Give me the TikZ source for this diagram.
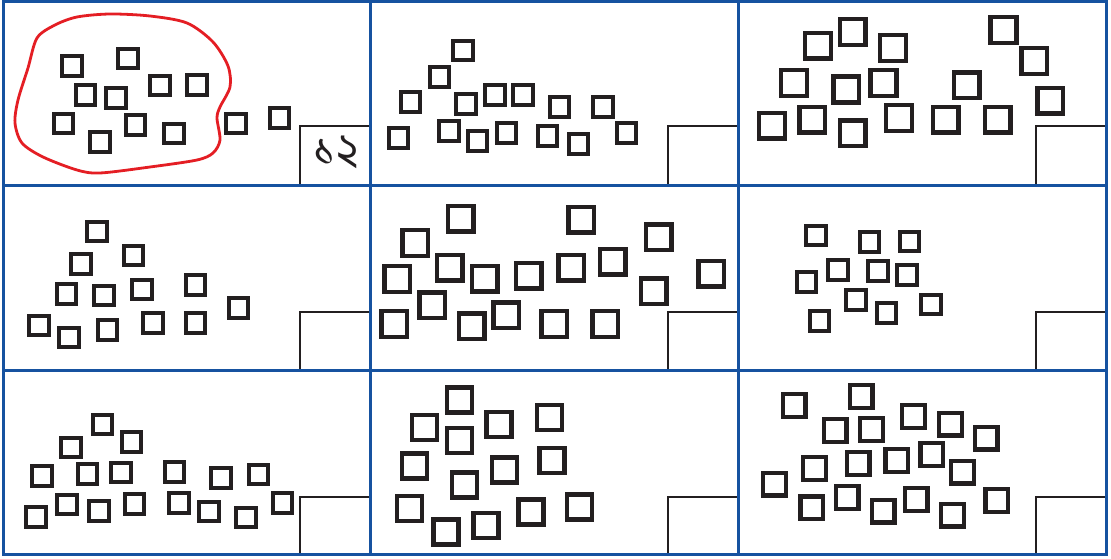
\documentclass[tikz,border=0pt]{standalone}
\usepackage{fontspec}
\newfontfamily\bnfont[Script=Bengali]{Hind Siliguri}
\definecolor{gridblue}{RGB}{22,82,160}
\definecolor{sqblack}{RGB}{35,31,32}
\definecolor{loopred}{RGB}{228,30,36}
\begin{document}
\begin{tikzpicture}[x=1pt,y=-1pt,
  sqbase/.style={draw=sqblack, inner sep=0pt, outer sep=0pt},
  sqs/.style={sqbase, line width=4pt, minimum size=19.6pt},
  sqm/.style={sqbase, line width=4.2pt, minimum size=22.8pt},
  sqb/.style={sqbase, line width=4.4pt, minimum size=25pt},
  sqxb/.style={sqbase, line width=4.5pt, minimum size=25.8pt},
  grid/.style={draw=gridblue, line width=3pt},
  ansbox/.style={draw=sqblack, line width=2pt},
  loop/.style={draw=loopred, line width=2.8pt}]
\useasboundingbox (0,0) rectangle (1111,559);

% answer boxes
\foreach \bx/\by [count=\i] in {299.5/126, 667.5/126, 1036/126, 299.5/311.5, 667.5/311.5, 1036/311.5, 299.5/496.5, 667.5/496.5, 1036/496.5}{
  \pgfmathsetmacro\rx{\bx<700 ? (\bx<400 ? 370 : 738) : 1106}
  \pgfmathsetmacro\ry{\by<200 ? 185 : (\by<400 ? 370 : 554.5)}
  \draw[ansbox] (\bx,\ry) -- (\bx,\by) -- (\rx,\by);
}
\node[font=\bnfont\fontsize{46}{46}\selectfont, text=sqblack, inner sep=0pt] (num) at (336,152) {১২};

% cell 1
\foreach \x/\y [count=\i] in {71.7/66.3, 127.7/58.7, 85.3/95.3, 115.7/98, 160/85.7, 196.7/85.3, 63.3/123.7, 135.3/125.3, 100.2/142.2, 174/133.6, 235.7/123.7, 279.5/118.3}
  \node[sqs] (a\i) at (\x,\y) {};
% red loop
\draw[loop] plot[smooth cycle, tension=0.5] coordinates {(37,38) (55,25) (77,17) (110,14) (150,16) (187,23) (213,42) (228,66) (230,87) (220,107) (217,118) (220,140) (213,153) (197,160) (150,167) (100,173) (77,170) (43,157) (22,143) (15,123) (18,100) (28,68)};

% cell 2
\foreach \x/\y [count=\i] in {463/50.7, 439.3/77, 410.5/102.3, 465.7/104.3, 494.7/95, 523/95, 559.3/107, 602.7/107, 398.3/138.3, 448.8/131, 477.3/141.3, 506.5/133.3, 547.3/136, 578.3/144.3, 626.5/133.3}
  \node[sqs] (b\i) at (\x,\y) {};

% cell 3
\foreach \x/\y [count=\i] in {818/45.8, 852.7/32, 893/48, 794/83, 846.3/89.5, 883.5/83, 772/125.7, 812.3/119.7, 852.7/133.3, 899/118, 945.7/119.7, 997.7/119.7, 966.8/85.3, 1003.5/30, 1034.3/61, 1050.2/100.8}
  \node[sqxb] (c\i) at (\x,\y) {};

% cell 4
\foreach \x/\y [count=\i] in {97/231.3, 133.3/255.3, 80.8/264.2, 66.3/293.8, 104/295.3, 141.7/289.3, 195.3/284.7, 238.3/307.7, 38.7/325.3, 69.2/337.3, 107.3/329.7, 152.7/323, 195.3/323}
  \node[sqs] (d\i) at (\x,\y) {};

% cell 5
\foreach \x/\y [count=\i] in {460.7/218.8, 415.3/243, 581.3/219.7, 658.7/237.3, 397.2/279, 449.7/267.7, 484.7/278.7, 528.7/275.7, 571.3/267.7, 612.7/261.7, 711.3/273.7, 653.8/291.3, 432.2/305.3, 394.3/324, 471.7/326.3, 506.3/315.3, 554.3/324, 605.3/324}
  \node[sqxb] (e\i) at (\x,\y) {};

% cell 6
\foreach \x/\y [count=\i] in {815.7/235.3, 869.3/242.2, 909.5/241.3, 838.2/269.7, 878.2/271, 907/274.7, 806.3/282, 856/299.7, 886.3/313, 931/304.3, 819.3/321}
  \node[sqs] (f\i) at (\x,\y) {};

% cell 7
\foreach \x/\y [count=\i] in {102.5/424.3, 131.3/442.2, 70.8/447.3, 41.7/476, 87.3/474, 121/472.3, 174.3/471.8, 220.8/477.7, 258.3/474.3, 36/516.7, 66.7/504.3, 99/511, 134.3/503.7, 179/502.7, 209/511.3, 246/517.3, 282.3/502.7}
  \node[sqs] (g\i) at (\x,\y) {};

% cell 8
\foreach \x/\y [count=\i] in {459.2/400, 424.2/427.5, 459.2/440.5, 498.8/424.2, 549.7/417.7, 414.2/465.8, 504.2/470, 551.8/460.2, 464.2/484.8, 409.2/508.5, 445.8/531.8, 486/525.2, 530.8/511.8, 579.3/506.8}
  \node[sqb] (h\i) at (\x,\y) {};

% cell 9
\foreach \x/\y [count=\i] in {794/405.5, 861/396.3, 835/430.7, 871.7/429.7, 913.7/416.7, 950.2/424, 986/438, 814.7/468.7, 858/463.7, 896.8/460.7, 931.8/454.7, 962.7/472, 774.7/484, 811.8/507.8, 847/497.3, 883/511, 916/499.7, 952.7/515, 996.8/500.7}
  \node[sqm] (k\i) at (\x,\y) {};

% grid
\draw[grid] (370,1.5) -- (370,554.5) (738,1.5) -- (738,554.5)
            (3,185) -- (1106,185) (3,370) -- (1106,370);
\draw[grid] (3,1.5) rectangle (1106,554.5);
\end{tikzpicture}
\end{document}
